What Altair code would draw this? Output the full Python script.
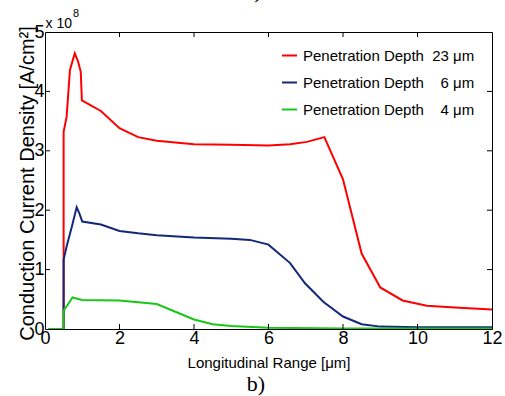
import altair as alt
import pandas as pd

# ---- data (values in units of 1e8 A/cm^2) ----
x_red = [0.1, 0.5, 0.5, 0.58, 0.67, 0.8, 0.89, 0.96, 0.99, 1.5, 2.0, 2.5, 3.0, 4.0, 5.0, 6.0, 6.58, 7.03, 7.5, 8.0, 8.5, 9.0, 9.6, 10.25, 11.0, 12.0]
y_red = [0.0, 0.0, 3.32, 3.57, 4.36, 4.64, 4.5, 4.33, 3.85, 3.67, 3.38, 3.23, 3.17, 3.11, 3.10, 3.09, 3.11, 3.15, 3.23, 2.52, 1.27, 0.70, 0.48, 0.39, 0.36, 0.33]

x_blue = [0.1, 0.5, 0.5, 0.58, 0.72, 0.85, 0.92, 1.0, 1.5, 2.0, 2.5, 3.0, 4.0, 5.0, 5.5, 6.0, 6.58, 6.98, 7.47, 8.0, 8.5, 9.0, 10.0, 12.0]
y_blue = [0.0, 0.0, 1.17, 1.39, 1.72, 2.05, 1.95, 1.81, 1.76, 1.65, 1.61, 1.58, 1.54, 1.52, 1.50, 1.42, 1.11, 0.77, 0.46, 0.21, 0.08, 0.04, 0.03, 0.03]

x_green = [0.1, 0.5, 0.5, 0.6, 0.74, 0.92, 1.0, 2.0, 3.0, 3.5, 4.0, 4.5, 5.0, 6.0, 8.0, 12.0]
y_green = [0.0, 0.0, 0.31, 0.40, 0.53, 0.50, 0.49, 0.48, 0.42, 0.29, 0.16, 0.08, 0.05, 0.02, 0.01, 0.01]

names = [
    "Penetration Depth\u00a0\u00a023 \u03bcm",
    "Penetration Depth\u00a0\u00a0\u00a0\u00a06 \u03bcm",
    "Penetration Depth\u00a0\u00a0\u00a0\u00a04 \u03bcm",
]
colors = ["#ff0000", "#13287a", "#18c818"]

x_ticks = [0, 2, 4, 6, 8, 10, 12]
y_ticks = [0, 1, 2, 3, 4, 5]
x_inner_ticks = [2, 4, 6, 8, 10]
y_inner_ticks = [1, 2, 3, 4]

W, H = 447, 297
SANS = "Liberation Sans, Arial, sans-serif"

frames = []
for n, xs, ys in zip(names, [x_red, x_blue, x_green], [y_red, y_blue, y_green]):
    frames.append(pd.DataFrame({"x": xs, "y": ys, "series": n, "idx": range(len(xs))}))

x_enc = alt.X(
    "x:Q",
    scale=alt.Scale(domain=[0, 12], nice=False, zero=False),
    axis=alt.Axis(values=x_ticks, title="Longitudinal Range [\u03bcm]", titleFont=SANS,
                  titleFontSize=15, titleFontWeight="normal", titleColor="black",
                  titleY=38, titleBaseline="alphabetic",
                  labelFont=SANS, labelFontSize=18, labelColor="black", labelPadding=0,
                  ticks=False, tickSize=0, domain=False, grid=False, labelFlush=False),
)
y_enc = alt.Y(
    "y:Q",
    scale=alt.Scale(domain=[0, 5], nice=False),
    axis=alt.Axis(values=y_ticks, title="Conduction Current Density [A/cm\u00b2]", titleFont=SANS,
                  titleFontSize=20, titleFontWeight="normal", titleColor="black",
                  titleX=-12, titleY=151, titleBaseline="alphabetic", titleAngle=270,
                  labelFont=SANS, labelFontSize=18, labelColor="black", labelPadding=1,
                  ticks=False, tickSize=0, domain=False, grid=False, labelFlush=False, format="d"),
)
color_enc = alt.Color(
    "series:N",
    scale=alt.Scale(domain=names, range=colors),
    legend=alt.Legend(title=None, orient="none", legendX=236, legendY=15,
                      symbolType="stroke", symbolSize=225, symbolStrokeWidth=2,
                      labelFont=SANS, labelFontSize=15, labelColor="black",
                      labelOffset=5, rowPadding=10, padding=0, labelLimit=400),
)

layers = []
for f in frames:
    layers.append(
        alt.Chart(f).mark_line(strokeWidth=2, clip=True).encode(
            x=x_enc, y=y_enc, color=color_enc, order="idx:Q"
        )
    )

xt = pd.DataFrame({"x": x_inner_ticks})
yt = pd.DataFrame({"y": y_inner_ticks})
tick_bottom = alt.Chart(xt).mark_rule(color="black", strokeWidth=1).encode(x=x_enc, y=alt.value(H), y2=alt.value(H - 5))
tick_top = alt.Chart(xt).mark_rule(color="black", strokeWidth=1).encode(x=x_enc, y=alt.value(0), y2=alt.value(5))
tick_left = alt.Chart(yt).mark_rule(color="black", strokeWidth=1).encode(y=y_enc, x=alt.value(0), x2=alt.value(5))
tick_right = alt.Chart(yt).mark_rule(color="black", strokeWidth=1).encode(y=y_enc, x=alt.value(W), x2=alt.value(W - 5))

one = pd.DataFrame({"a": [0]})
exp_txt = alt.Chart(one).mark_text(align="left", baseline="alphabetic", font=SANS, fontSize=14, color="black").encode(
    x=alt.value(0.5), y=alt.value(-4), text=alt.value("x 10"))
exp_sup = alt.Chart(one).mark_text(align="left", baseline="alphabetic", font=SANS, fontSize=11, color="black").encode(
    x=alt.value(28), y=alt.value(-15), text=alt.value("8"))
caption = alt.Chart(one).mark_text(align="center", baseline="alphabetic", font="Liberation Serif", fontSize=22, color="black").encode(
    x=alt.value(211), y=alt.value(359), text=alt.value("b)"))
top_frag = alt.Chart(one).mark_text(align="center", baseline="alphabetic", font="Liberation Serif", fontSize=22, color="black").encode(
    x=alt.value(213), y=alt.value(-34), text=alt.value(")"))

chart = alt.layer(
    *layers, tick_bottom, tick_top, tick_left, tick_right, exp_txt, exp_sup, caption, top_frag
).properties(
    width=W, height=H,
    padding={"left": 45, "top": 32, "right": 13, "bottom": 67},
    autosize=alt.AutoSizeParams(type="none"),
    background="white",
).configure_view(
    stroke="black", strokeWidth=1
)

chart.save("out.html", embed_options={"renderer": "svg", "actions": False})
